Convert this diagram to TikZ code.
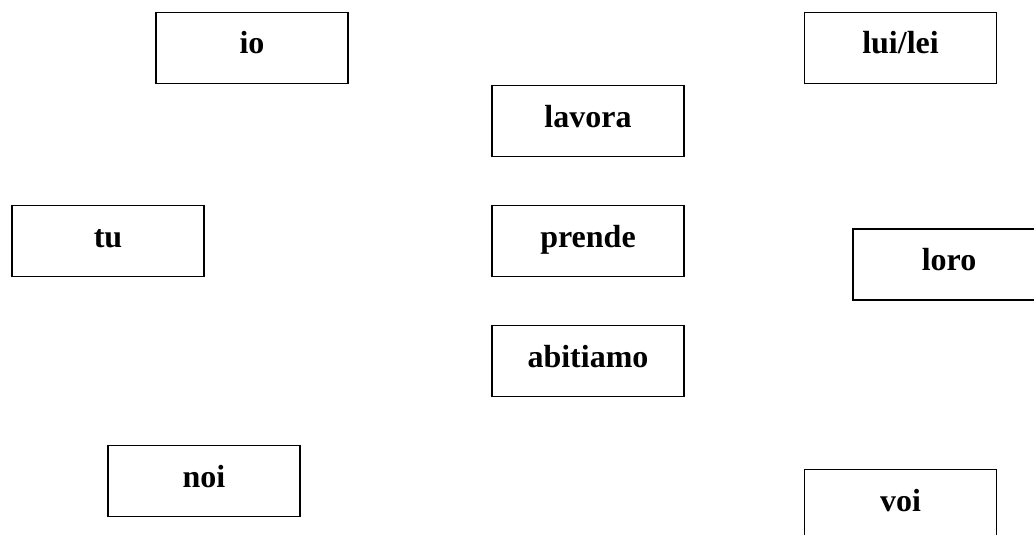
\documentclass[tikz,border=0pt]{standalone}
\usepackage{fontspec}
\setmainfont{Liberation Serif}
\begin{document}
\begin{tikzpicture}[x=1pt,y=-1pt,
  word/.style={draw=black, line width=1.6pt, rectangle, inner sep=0pt,
    minimum width=192pt, minimum height=71pt,
    text height=22pt, text depth=10pt,
    font=\fontsize{32}{38}\selectfont\bfseries}]
  \useasboundingbox[fill=white] (0,0) rectangle (1034,535);
  % pronouns
  \node[word] (io)     at (252,48)    {io};
  \node[word] (luilei) at (900.5,48)  {lui/lei};
  \node[word] (tu)     at (108,241)   {tu};
  \node[word] (loro)   at (949,264.5) {loro};
  \node[word] (noi)    at (204,481)   {noi};
  \node[word] (voi)    at (900.5,505) {voi};
  % verbs
  \node[word] (lavora)   at (588,121) {lavora};
  \node[word] (prende)   at (588,241) {prende};
  \node[word] (abitiamo) at (588,361) {abitiamo};
\end{tikzpicture}
\end{document}
